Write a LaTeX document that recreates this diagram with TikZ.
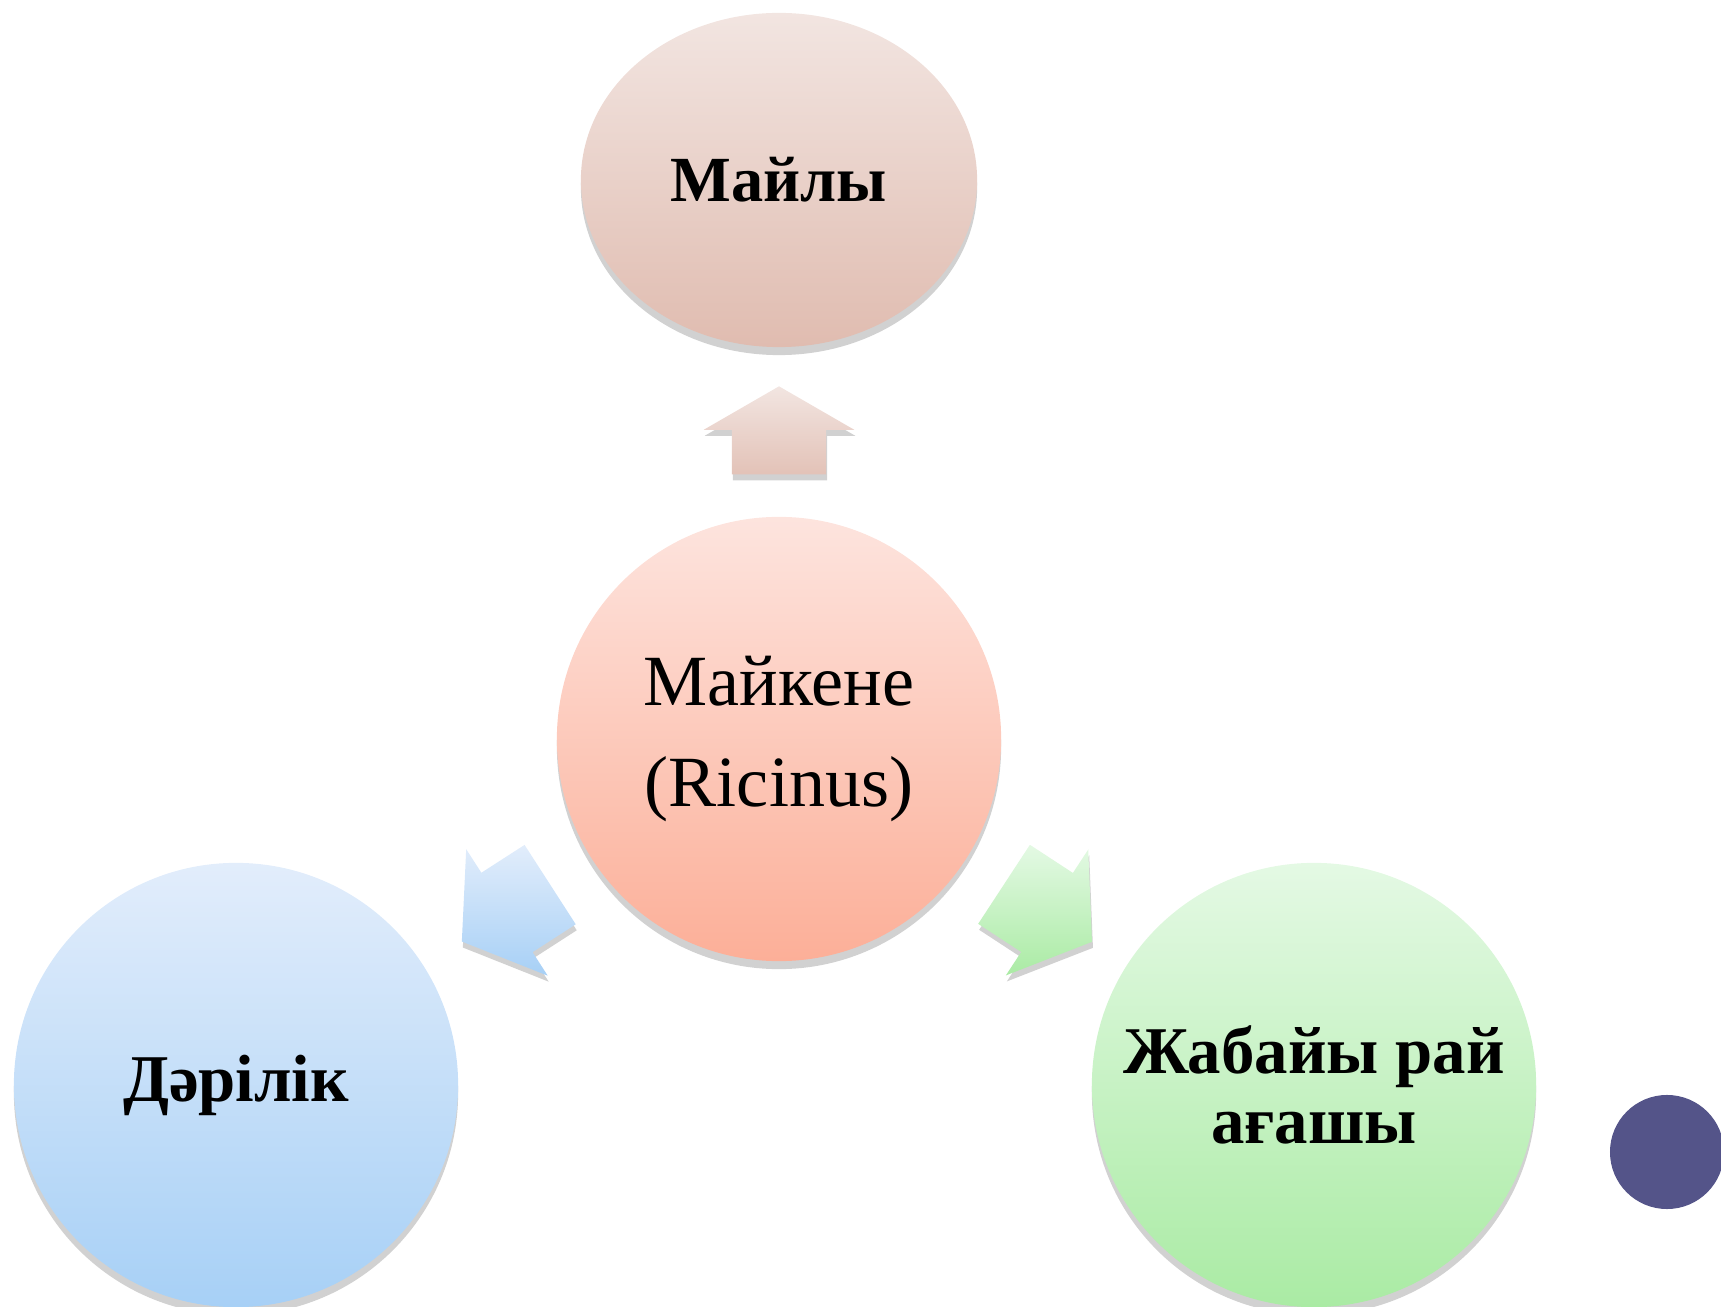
\documentclass[tikz,border=0pt]{standalone}
\usepackage{fontspec}
\setmainfont{Liberation Serif}
\usepackage{tikz}
\usetikzlibrary{shapes,arrows,shadows,calc}

\definecolor{rosetop}{HTML}{F2E5E1}
\definecolor{rosebot}{HTML}{E0BCB0}
\definecolor{salmtop}{HTML}{FDE4DE}
\definecolor{salmbot}{HTML}{FCAF98}
\definecolor{bluetop}{HTML}{E2EDFB}
\definecolor{bluebot}{HTML}{A7D0F6}
\definecolor{greentop}{HTML}{E4F9E4}
\definecolor{greenbot}{HTML}{AAEBA4}
\definecolor{dotblue}{HTML}{545489}

\tikzstyle{bubble} = [circle, draw=none, minimum size=4.44cm, inner sep=0pt, align=center,
	drop shadow={shadow xshift=0mm, shadow yshift=-0.8mm, opacity=0.3, fill=black!60}]
\tikzstyle{flow} = [single arrow, draw=none, inner sep=0pt, single arrow head extend=0.28cm,
	drop shadow={shadow xshift=0.1mm, shadow yshift=-0.6mm, opacity=0.3, fill=black!60}]
\tikzstyle{bigbold} = [font=\fontsize{19}{20}\selectfont\bfseries]
\newcommand{\shaft}{\rule{0pt}{0.93cm}}

\begin{document}
\begin{tikzpicture}[x=0.01cm, y=-0.01cm]
				\useasboundingbox (0,0) rectangle (1721,1307);
				
				\node [bubble, top color=salmtop, bottom color=salmbot,
					font=\fontsize{20.5}{29}\selectfont] (maykene) at (779,739) {Майкене\\(Ricinus)};
				\node [ellipse, draw=none, inner sep=0pt, minimum width=3.96cm, minimum height=3.34cm,
					top color=rosetop, bottom color=rosebot, font=\fontsize{18.3}{20}\selectfont\bfseries,
					drop shadow={shadow xshift=0mm, shadow yshift=-0.8mm, opacity=0.3, fill=black!60}]
					(mayly) at (779,180) {Майлы};
				\node [bubble, top color=bluetop, bottom color=bluebot, bigbold] (derilik) at (236,1085) {Дәрілік};
				\node [bubble, top color=greentop, bottom color=greenbot, bigbold] (zhabayy) at (1314,1085)
					{Жабайы рай\\ағашы};
				
				% arrows sit between the bubbles, pulled back a little toward the centre
				\node [flow, minimum height=0.88cm, single arrow tip angle=120, rotate=90,
					top color=rosetop, bottom color=rosebot!85!rosetop]
					(arrmayly) at ($($(mayly.south)!0.5!(maykene.north)$)!0.12cm!(maykene)$) {\shaft};
				\node [flow, minimum height=1.05cm, single arrow tip angle=109, rotate=212.8,
					top color=bluetop, bottom color=bluebot]
					(arrderilik) at ($($(maykene)!0.5!(derilik)$)!0.15cm!(maykene)$) {\shaft};
				\node [flow, minimum height=1.05cm, single arrow tip angle=109, rotate=-33.2,
					top color=greentop, bottom color=greenbot]
					(arrzhabayy) at ($($(maykene)!0.5!(zhabayy)$)!0.15cm!(maykene)$) {\shaft};
				
				\node [circle, fill=dotblue, draw=none, minimum size=1.14cm, inner sep=0pt] (dot) at (1667,1152) {};
				
\end{tikzpicture}
\end{document}
